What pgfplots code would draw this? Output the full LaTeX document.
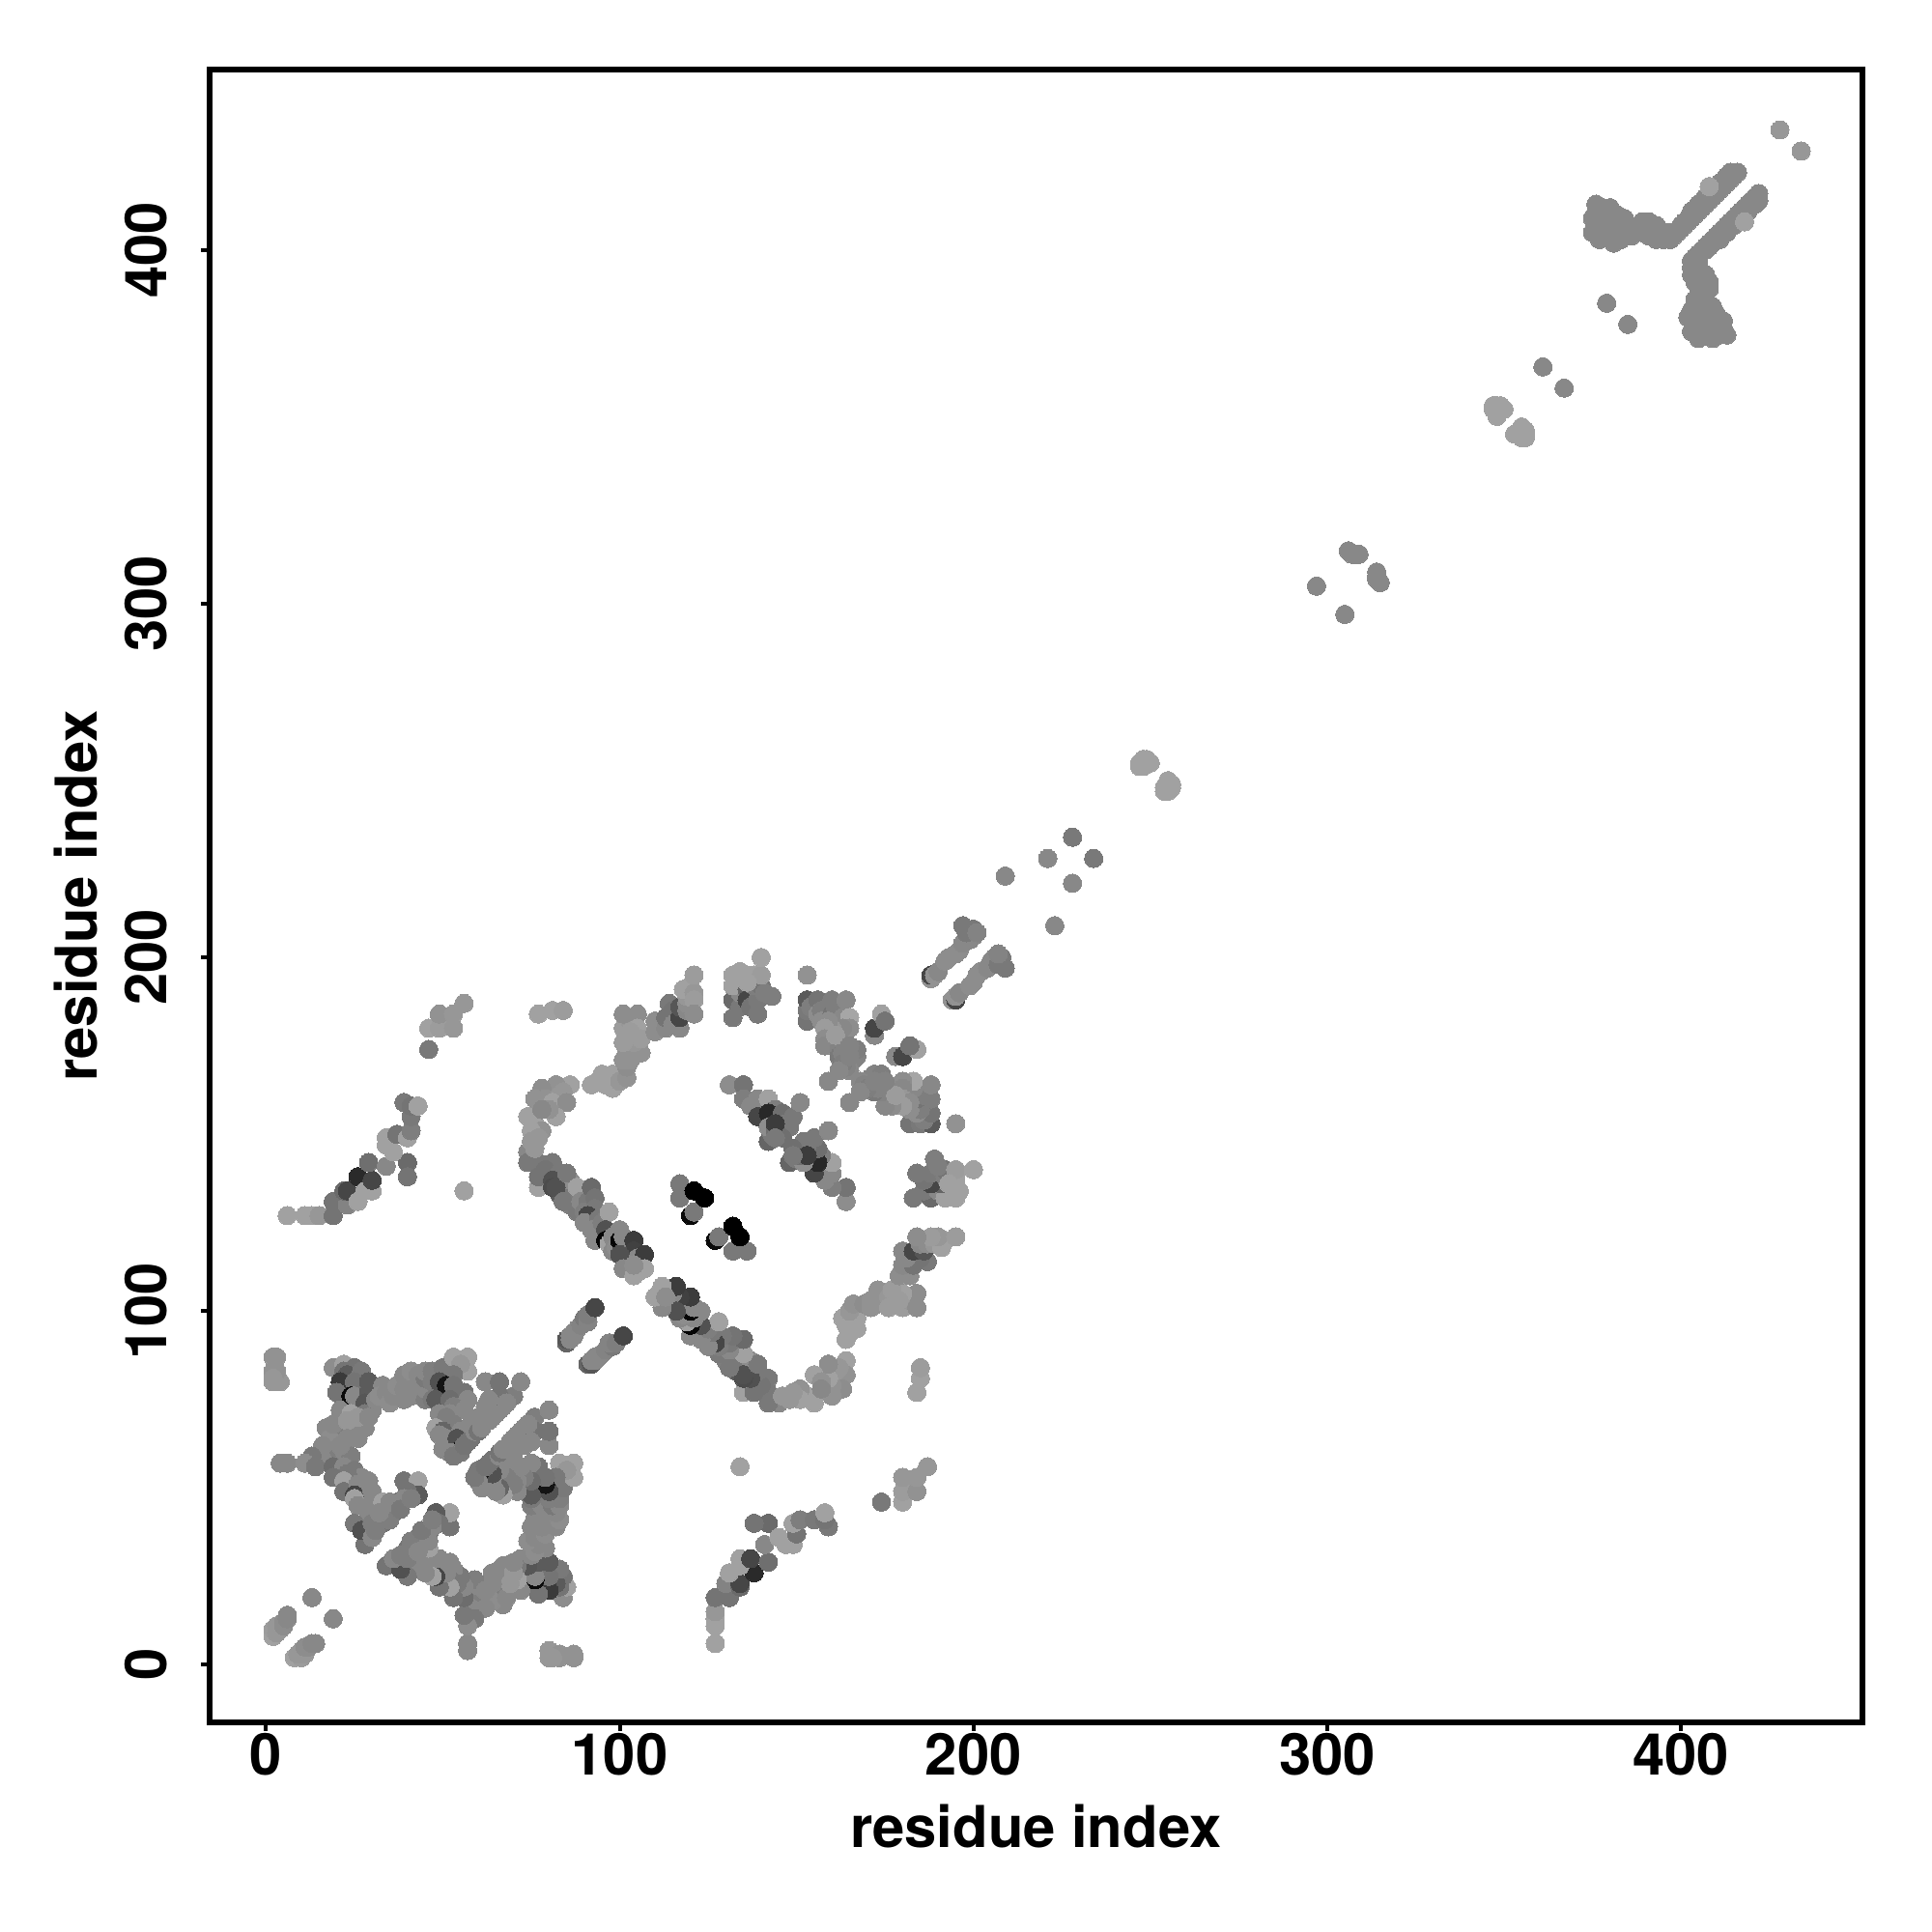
\documentclass[border=0pt]{standalone}
\usepackage{pgfplots}
\usepackage{pgfplotstable}
\usepackage{fontspec}
\setmainfont{TeX Gyre Heros}
\pgfplotsset{compat=1.18}
\pgfplotstableread{
x y g
2 8 160
2 10 155
3 9 150
3 11 150
4 10 150
5 11 140
5 12 140
6 13 135
6 14 135
13 19 135
4 57 135
6 57 135
2 80 150
4 80 150
2 83 145
3 83 145
2 87 145
3 87 145
2 81 150
19 84 140
22 85 160
25 84 115
22 83 115
23 82 90
27 83 120
27 79 110
23 78 120
30 75 135
22 75 120
26 73 135
24 73 125
30 72 135
21 80 58
25 80 115
29 80 90
20 77 115
24 76 10
25 76 135
29 77 90
28 74 85
21 72 135
24 71 160
28 71 120
17 67 135
28 67 135
21 66 125
25 67 135
18 64 140
19 68 135
23 69 150
26 64 135
23 64 135
26 70 150
29 70 135
20 60 135
24 59 125
17 59 125
16 58 135
16 62 135
21 62 135
13 59 120
11 57 140
14 56 120
19 56 108
22 56 135
25 55 120
27 53 135
24 52 120
23 54 120
28 50 135
27 47 135
29 46 135
19 53 115
22 52 160
22 49 115
26 51 135
29 52 135
25 48 70
25 47 160
30 49 135
26 45 135
29 43 135
25 40 120
31 75 135
33 79 135
32 76 140
34 77 135
35 74 140
36 76 135
37 79 140
39 82 135
39 78 135
41 76 135
41 80 135
41 83 140
43 82 135
43 78 135
39 75 135
45 75 125
45 78 135
45 81 120
45 83 135
47 80 125
47 83 125
49 77 120
47 75 120
50 84 120
53 87 160
57 87 160
57 83 160
55 85 150
53 82 120
49 80 80
51 79 20
53 79 115
56 77 115
48 75 90
52 75 108
57 75 135
53 73 125
49 71 135
52 71 135
56 72 135
51 70 125
53 68 125
48 67 160
50 66 100
49 65 135
50 61 135
51 64 135
53 62 135
55 66 135
54 64 80
55 61 20
55 60 120
52 60 135
53 59 120
56 62 115
57 63 115
58 68 135
58 64 115
59 66 135
60 66 115
61 68 125
61 67 135
62 73 135
62 80 135
63 69 135
65 71 135
67 73 135
68 75 135
66 80 115
70 76 125
72 80 135
66 72 135
66 76 115
63 75 135
60 70 135
64 70 135
68 74 135
28 34 115
27 38 80
30 36 135
33 40 115
33 46 160
36 43 115
37 46 115
39 52 115
43 52 160
43 48 90
40 49 115
39 47 135
31 38 125
35 41 125
30 40 125
32 43 135
35 46 135
38 44 120
41 47 125
85 91 100
85 92 85
86 92 135
86 93 135
87 93 135
87 94 135
88 95 135
89 96 130
90 98 120
91 97 130
91 99 125
93 101 70
74 145 135
74 142 120
77 142 120
81 142 120
79 140 115
83 139 120
83 133 90
86 133 120
86 137 140
86 130 125
77 135 160
77 138 115
81 137 80
81 135 75
82 135 80
85 139 120
84 131 120
88 135 160
88 128 120
89 131 135
91 131 120
90 128 125
92 135 105
93 132 115
93 129 120
91 127 70
90 125 135
93 120 135
93 124 135
94 126 120
92 123 135
95 125 125
95 121 135
97 128 160
96 123 80
96 120 5
97 119 160
98 121 135
98 117 135
99 118 140
100 123 135
100 120 5
101 121 135
102 118 135
102 115 150
103 114 145
104 120 60
104 117 65
105 115 135
106 114 150
107 116 60
100 116 80
101 112 135
103 112 135
105 111 160
104 110 160
107 112 160
104 113 140
86 164 160
82 164 145
84 162 150
78 163 140
78 158 140
76 160 145
79 160 145
83 161 150
81 159 160
85 159 140
82 155 160
80 157 145
74 155 160
76 153 160
78 151 145
75 151 160
77 149 150
76 146 150
75 148 150
78 157 135
92 164 160
94 165 160
95 167 160
96 164 160
98 163 160
98 165 160
98 167 160
100 165 150
102 166 145
102 169 140
101 171 145
103 171 145
102 173 145
106 173 145
104 176 150
101 176 155
101 180 155
103 182 150
101 184 140
105 184 140
105 180 160
103 179 155
106 177 155
110 179 140
110 182 140
111 181 140
113 180 135
114 187 120
113 183 115
115 185 115
115 181 135
117 180 135
117 183 70
117 186 85
119 185 135
119 187 140
119 189 150
118 191 160
120 192 160
121 190 150
121 188 155
121 184 140
121 195 155
77 184 160
81 185 160
84 185 155
132 183 120
132 188 105
134 186 120
134 190 135
132 195 160
136 195 160
134 196 160
132 192 160
138 195 160
135 193 160
136 191 100
136 188 70
137 186 115
139 184 120
139 188 120
138 192 125
140 192 115
141 190 125
140 195 155
140 200 160
143 189 125
136 193 160
153 195 145
153 182 115
153 185 120
153 188 90
154 186 125
156 188 115
156 184 140
157 185 125
157 182 140
160 188 125
160 184 115
161 186 125
164 188 135
163 183 135
165 183 165
165 180 140
163 180 135
160 180 150
159 182 140
158 180 155
158 177 140
158 175 135
160 176 135
162 177 135
162 174 130
162 172 120
163 173 130
164 172 130
165 170 130
166 173 130
166 171 130
167 172 130
165 168 135
164 169 130
167 174 125
163 170 125
162 168 135
159 165 135
161 178 155
165 175 130
165 172 130
172 178 135
172 180 70
174 184 160
175 182 115
131 164 140
135 164 115
135 160 125
137 158 135
139 160 135
140 157 135
142 160 160
144 157 125
139 155 70
142 156 40
146 156 110
147 153 120
149 155 120
151 159 135
142 148 100
143 150 120
142 152 140
144 151 110
146 151 100
148 152 120
146 149 110
144 153 60
144 149 120
117 136 120
117 132 120
120 127 10
121 128 120
121 134 0
124 132 0
6 127 160
11 127 160
13 127 160
15 127 150
19 127 115
19 131 115
23 130 130
22 134 105
23 134 70
26 138 42
26 131 160
28 134 160
30 134 160
30 137 70
29 142 110
34 141 135
40 142 105
40 138 115
34 147 160
36 145 160
34 149 160
37 150 115
40 149 160
41 151 125
41 155 120
39 159 120
41 158 115
43 158 160
56 134 160
46 174 120
46 180 160
49 180 155
49 184 145
53 180 150
53 184 150
56 187 150
188 194 145
188 195 70
189 195 145
190 196 135
192 199 140
193 200 140
195 201 140
196 202 140
197 204 135
199 205 135
200 206 135
198 207 120
197 209 120
200 208 120
201 207 130
209 223 135
221 228 135
228 234 120
247 255 160
248 254 160
247 254 160
248 256 160
249 256 160
250 255 160
297 305 135
306 315 135
307 314 135
308 314 135
309 314 135
347 356 160
348 356 160
349 356 160
350 355 160
348 354 160
349 355 160
347 355 160
348 353 160
361 367 135
379 385 135
428 434 150
375 409 135
375 405 135
376 413 135
376 411 135
376 409 135
376 407 135
377 407 135
377 405 135
377 403 135
377 410 135
378 412 135
378 409 135
379 405 135
379 410 135
379 408 135
380 412 135
380 408 135
380 404 135
381 402 135
381 405 135
382 410 135
382 405 135
382 408 135
383 407 135
383 403 135
384 409 135
384 406 135
386 406 135
386 404 135
388 407 135
389 405 135
389 408 135
390 407 135
391 406 135
391 408 135
392 406 135
393 405 135
393 407 135
394 405 135
395 405 135
396 405 135
398 405 135
393 403 135
395 403 135
397 403 135
391 404 135
387 405 135
398 404 135
399 405 135
400 406 135
401 407 135
402 408 135
403 409 135
404 410 135
405 411 135
406 412 135
407 413 135
408 414 135
409 415 135
410 416 135
411 417 135
412 418 135
413 419 135
414 420 135
415 421 135
416 422 135
400 407 135
401 408 135
402 409 135
403 410 135
404 411 135
405 412 135
406 413 135
407 414 135
408 415 135
409 416 135
410 417 135
411 418 135
412 419 135
403 411 135
405 413 135
407 415 135
409 417 135
411 419 135
413 421 135
414 422 135
408 418 160
}\contacts
\begin{document}
\begin{tikzpicture}
\path[use as bounding box] (-2.168,-2.17) rectangle (17.832,17.83);
\begin{axis}[
  at={(0,0)}, anchor=south west,
  scale only axis, width=17.107cm, height=17.107cm,
  xmin=-16, xmax=451.2, ymin=-16.3, ymax=451,
  xtick={0,100,200,300,400}, ytick={0,100,200,300,400},
  xtick pos=bottom, ytick pos=left,
  tick align=outside, major tick length=0.85mm,
  axis line style={line width=1.7pt}, tick style={line width=1.13pt,black},
  /pgf/number format/assume math mode=true,
  ticklabel style={font=\fontsize{17}{20}\selectfont\bfseries},
  xticklabel style={yshift=1mm},
  yticklabel style={rotate=90, anchor=south, yshift=2.3mm},
  xlabel={residue index}, ylabel={residue index},
  every axis x label/.style={at={(axis description cs:0.5,0)}, anchor=center, yshift=-1.08cm,
    font=\fontsize{17}{20}\selectfont\bfseries},
  every axis y label/.style={at={(axis description cs:0,0.5)}, anchor=center, rotate=90, yshift=1.38cm,
    font=\fontsize{17}{20}\selectfont\bfseries},
  colormap={grayscale}{gray(0cm)=(0); gray(1cm)=(1)},
  point meta min=0, point meta max=255,
  scatter/use mapped color={draw=mapped color, fill=mapped color},
  clip=true,
]
\addplot[scatter, only marks, mark=*, mark size=2.7pt, line width=0pt, scatter src=explicit]
  table[x index=1, y index=0, meta index=2] {\contacts};
\addplot[scatter, only marks, mark=*, mark size=2.7pt, line width=0pt, scatter src=explicit]
  table[x index=0, y index=1, meta index=2] {\contacts};
\end{axis}
\end{tikzpicture}
\end{document}
